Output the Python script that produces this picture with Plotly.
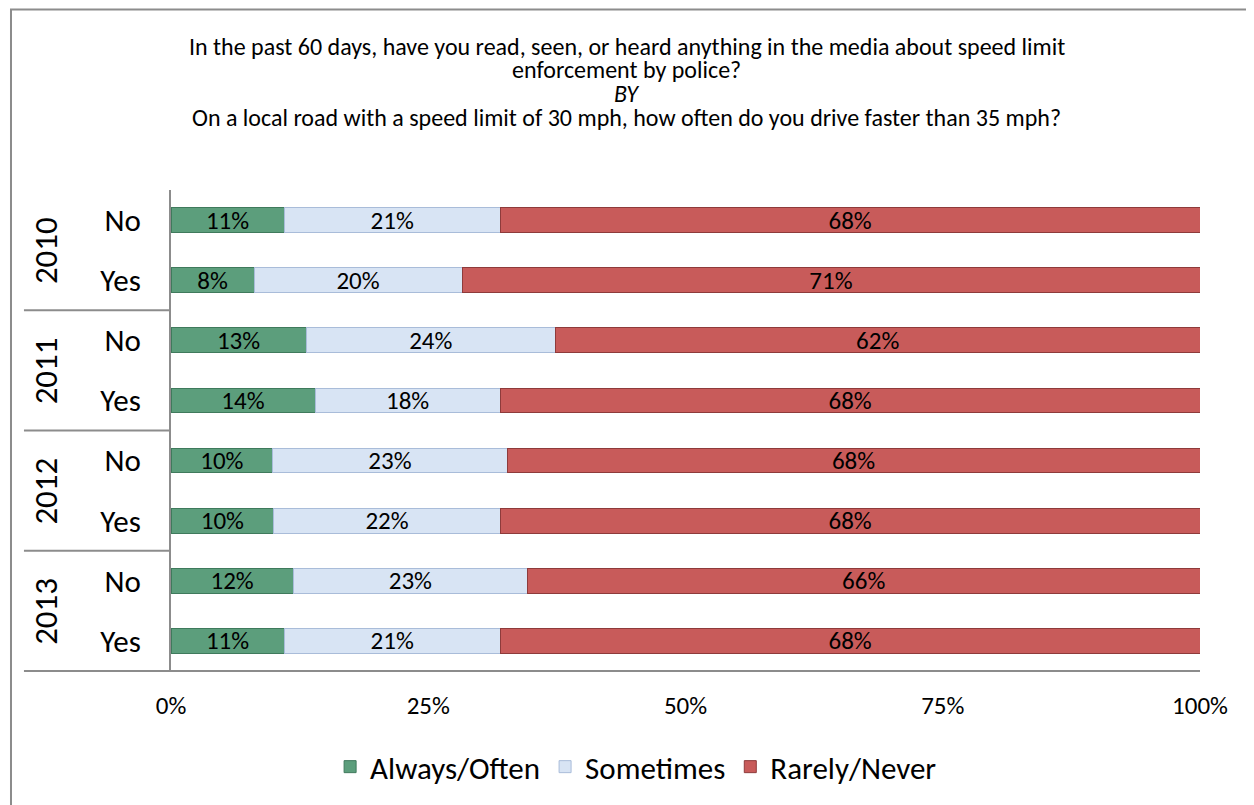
import plotly.graph_objects as go

# Survey data, top to bottom
years = ["2010", "2010", "2011", "2011", "2012", "2012", "2013", "2013"]
answers = ["No", "Yes", "No", "Yes", "No", "Yes", "No", "Yes"]
always_often = [11, 8, 13, 14, 10, 10, 12, 11]
sometimes = [21, 20, 24, 18, 23, 22, 23, 21]
rarely_never = [68, 71, 62, 68, 68, 68, 66, 68]
x_ticks = [0, 25, 50, 75, 100]
x_tick_labels = ["0%", "25%", "50%", "75%", "100%"]
title_lines = [
    "In the past 60 days, have you read, seen, or heard anything in the media about speed limit",
    "enforcement by police?",
    "<i>BY</i>",
    "On a local road with a speed limit of 30 mph, how often do you drive faster than 35 mph?",
]

FONT = "Carlito, Lato, sans-serif"
rows = [f"{y}|{a}" for y, a in zip(years, answers)]

series = [
    ("Always/Often", always_often, "#5c9e7c", "#3f7a5c"),
    ("Sometimes", sometimes, "#d8e4f4", "#a9bcd9"),
    ("Rarely/Never", rarely_never, "#c85b5a", "#8e3b3b"),
]

fig = go.Figure()
for name, vals, color, edge in series:
    fig.add_trace(go.Bar(
        y=rows,
        x=vals,
        name=name,
        orientation="h",
        marker=dict(color=color, line=dict(color=edge, width=1)),
        text=[f"{v}%" for v in vals],
        textposition="inside",
        insidetextanchor="middle",
        textangle=0,
        constraintext="none",
        textfont=dict(color="black", size=25, family=FONT),
    ))

# title lines
for yy, line in zip([1.298, 1.2505, 1.2008, 1.1511], title_lines):
    fig.add_annotation(
        x=0.4431, xref="paper", y=yy, yref="paper",
        text=line, showarrow=False, xanchor="center", yanchor="middle",
        font=dict(size=24, family=FONT, color="black"),
    )

# year labels, rotated, centred between the No/Yes rows
year_names = list(dict.fromkeys(years))
for i, yr in enumerate(year_names):
    fig.add_annotation(
        x=-0.1215, xref="paper", y=2 * i + 0.5, yref="y",
        text=yr, textangle=-90, showarrow=False,
        xanchor="center", yanchor="middle",
        font=dict(size=33, family=FONT, color="black"),
    )

# separators between years on the category axis
for i in range(1, len(year_names) + 1):
    fig.add_shape(
        type="line", xref="paper", yref="y",
        x0=-0.1429, x1=0 if i < len(year_names) else 1,
        y0=2 * i - 0.5, y1=2 * i - 0.5,
        line=dict(color="#8c8c8c", width=2),
    )

# outer chart frame
fig.add_shape(
    type="rect", xref="paper", yref="paper",
    x0=-0.1555, x1=1.2, y0=-0.5, y1=1.3747,
    line=dict(color="#8c8c8c", width=2),
)

fig.update_layout(
    width=1246,
    height=797,
    barmode="stack",
    barnorm="percent",
    bargap=0.59,
    plot_bgcolor="white",
    paper_bgcolor="white",
    font=dict(family=FONT, color="black"),
    margin=dict(l=163, r=54, t=182, b=132),
    legend=dict(
        orientation="h", x=0.452, xanchor="center", y=-0.1946, yanchor="middle",
        font=dict(size=31, family=FONT, color="black"),
        traceorder="normal",
    ),
    showlegend=True,
)

fig.update_xaxes(
    range=[0, 100], tickvals=x_ticks, ticktext=x_tick_labels,
    showgrid=False, zeroline=False, showline=False,
    tickfont=dict(size=25, family=FONT), ticklabelstandoff=16,
)
fig.update_yaxes(
    autorange="reversed", tickvals=rows, ticktext=answers,
    showgrid=False, showline=True, linecolor="#8c8c8c", linewidth=2,
    tickfont=dict(size=31, family=FONT), ticklabelstandoff=22,
    ticks="",
)

fig.write_html("out.html")
